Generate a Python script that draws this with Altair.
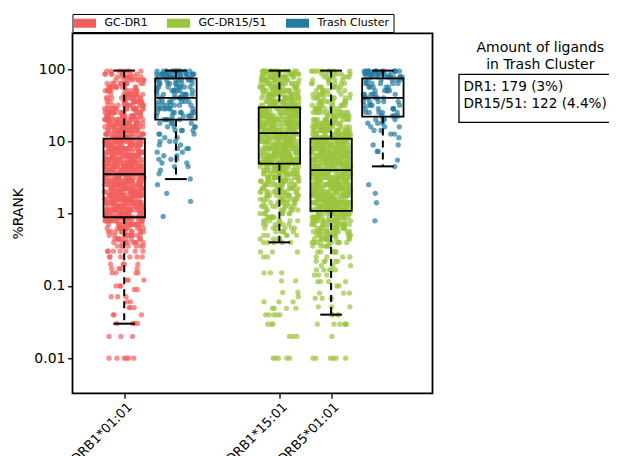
import altair as alt
import pandas as pd

FONT = "DejaVu Sans"

# ---------------- legend / categories ----------------
legend_labels = ["GC-DR1", "GC-DR15/51", "Trash Cluster"]
legend_colors = ["#F25F5C", "#9BC53D", "#247BA0"]

# ---------------- axes ----------------
x_tick_pos = [0, 3, 4]
x_tick_labels = ["DRB1*01:01", "DRB1*15:01", "DRB5*01:01"]
y_tick_values = [0.01, 0.1, 1, 10, 100]

# ---------------- box-plot summary (%RANK) ----------------
group_names = ["DR1", "DR1 trash", "DRB1*15:01", "DRB5*01:01", "DR15/51 trash"]
group_pos = [0, 1, 3, 4, 5]
group_legend = ["GC-DR1", "Trash Cluster", "GC-DR15/51", "GC-DR15/51", "Trash Cluster"]
box_q1 = [0.89, 20, 4.9, 1.09, 22]
box_med = [3.5, 40, 13, 4.0, 40]
box_q3 = [10.9, 74, 29.5, 10.9, 74]
whisk_lo = [0.03, 3.0, 0.40, 0.04, 4.5]
whisk_hi = [95, 95, 95, 95, 95]

# ---------------- strip points: log10(%RANK) levels and point counts ----------------
red_lvl = [1.97, 1.93, 1.89, 1.85, 1.80, 1.75, 1.70, 1.65, 1.60, 1.55,
           1.50, 1.45, 1.40, 1.35, 1.30, 1.25, 1.20, 1.15, 1.10, 1.05,
           1.00, 0.95, 0.90, 0.85, 0.80, 0.75, 0.70, 0.65, 0.60, 0.55,
           0.50, 0.45, 0.40, 0.35, 0.30, 0.25, 0.20, 0.15, 0.10, 0.05,
           0.00, -0.05, -0.10, -0.15, -0.20, -0.25, -0.30, -0.35, -0.40, -0.45,
           -0.52, -0.60, -0.70, -0.76, -0.82, -0.92, -1.00, -1.05, -1.15, -1.22,
           -1.30, -1.40, -1.52, -1.70, -2.00]
red_n = [7, 8, 8, 9, 10, 11, 12, 12, 13, 14,
         15, 16, 16, 17, 18, 19, 20, 21, 22, 23,
         24, 24, 24, 24, 24, 24, 24, 24, 24, 24,
         24, 24, 24, 24, 24, 24, 24, 24, 24, 24,
         24, 24, 18, 16, 14, 12, 10, 9, 8, 7,
         7, 6, 4, 4, 4, 3, 3, 2, 3, 2,
         3, 3, 4, 3, 6]

blue1_lvl = [1.97, 1.93, 1.89, 1.85, 1.80, 1.75, 1.70, 1.65, 1.60, 1.55,
             1.50, 1.45, 1.40, 1.35, 1.30, 1.25, 1.20, 1.15, 1.10, 1.05,
             1.00, 0.95, 0.90, 0.85, 0.80, 0.75, 0.70, 0.65, 0.60, 0.55,
             0.48, 0.40, 0.28, 0.17, -0.04]
blue1_n = [14, 14, 12, 9, 8, 8, 8, 8, 8, 7,
           7, 7, 7, 6, 6, 4, 4, 4, 3, 2,
           3, 2, 3, 2, 2, 3, 2, 2, 1, 1,
           1, 1, 1, 1, 1]

g1_lvl = [1.97, 1.93, 1.89, 1.85, 1.80, 1.75, 1.70, 1.65, 1.60, 1.55,
          1.50, 1.45, 1.40, 1.35, 1.30, 1.25, 1.20, 1.15, 1.10, 1.05,
          1.00, 0.95, 0.90, 0.85, 0.80, 0.75, 0.70, 0.65, 0.60, 0.55,
          0.50, 0.45, 0.40, 0.35, 0.30, 0.25, 0.20, 0.15, 0.10, 0.05,
          0.00, -0.05, -0.10, -0.15, -0.20, -0.25, -0.30, -0.35, -0.40, -0.53,
          -0.60, -0.82, -0.93, -1.09, -1.15, -1.22, -1.31, -1.40, -1.53, -1.70,
          -2.00]
g1_n = [16, 16, 16, 17, 17, 18, 18, 19, 19, 20,
        20, 24, 24, 24, 24, 24, 24, 24, 24, 24,
        24, 24, 24, 24, 24, 24, 24, 20, 18, 17,
        16, 14, 13, 12, 12, 11, 10, 9, 9, 8,
        8, 7, 7, 6, 6, 5, 5, 4, 5, 3,
        2, 3, 2, 2, 1, 3, 4, 5, 3, 3,
        5]

g2_lvl = [1.97, 1.93, 1.89, 1.85, 1.80, 1.75, 1.70, 1.65, 1.60, 1.55,
          1.50, 1.45, 1.40, 1.35, 1.30, 1.25, 1.20, 1.15, 1.10, 1.05,
          1.00, 0.95, 0.90, 0.85, 0.80, 0.75, 0.70, 0.65, 0.60, 0.55,
          0.50, 0.45, 0.40, 0.35, 0.30, 0.25, 0.20, 0.15, 0.10, 0.05,
          0.00, -0.05, -0.10, -0.15, -0.20, -0.25, -0.30, -0.35, -0.40, -0.45,
          -0.53, -0.60, -0.66, -0.72, -0.78, -0.85, -0.94, -1.00, -1.10, -1.17,
          -1.29, -1.40, -1.53, -1.70, -2.00]
g2_n = [10, 6, 6, 6, 6, 7, 7, 8, 8, 9,
        10, 11, 12, 13, 14, 15, 17, 19, 21, 24,
        24, 24, 24, 24, 24, 24, 24, 24, 24, 24,
        24, 24, 24, 24, 24, 24, 24, 24, 24, 24,
        20, 18, 16, 15, 14, 13, 12, 11, 10, 6,
        6, 4, 5, 3, 5, 3, 4, 2, 3, 3,
        3, 4, 6, 1, 6]

blue2_lvl = [1.97, 1.93, 1.89, 1.85, 1.80, 1.75, 1.70, 1.65, 1.60, 1.55,
             1.50, 1.45, 1.40, 1.35, 1.30, 1.25, 1.20, 1.15, 1.10, 1.05,
             0.95, 0.86, 0.74, 0.65, 0.40, 0.28, 0.15, -0.10]
blue2_n = [14, 12, 10, 6, 6, 5, 5, 6, 6, 5,
           5, 5, 5, 4, 4, 3, 3, 2, 2, 1,
           2, 2, 1, 1, 1, 1, 1, 1]

# ---------------- annotation text ----------------
note_title = ["Amount of ligands", "in Trash Cluster"]
note_lines = ["DR1: 179 (3%)", "DR15/51: 122 (4.4%)"]

# ---------------- build tables ----------------
rows = []
for name, pos, leg, lvls, ns in zip(group_names, group_pos, group_legend,
                                    [red_lvl, blue1_lvl, g1_lvl, g2_lvl, blue2_lvl],
                                    [red_n, blue1_n, g1_n, g2_n, blue2_n]):
    for lv, n in zip(lvls, ns):
        for _ in range(n):
            rows.append({"group": name, "pos": pos, "legend": leg, "rank": 10 ** lv})
points_df = pd.DataFrame(rows)

box_df = pd.DataFrame({"group": group_names, "pos": group_pos, "q1": box_q1,
                       "med": box_med, "q3": box_q3, "lo": whisk_lo, "hi": whisk_hi})

label_expr = " : ".join(
    f"datum.value == {p} ? '{t}'" for p, t in zip(x_tick_pos[:-1], x_tick_labels[:-1])
) + f" : '{x_tick_labels[-1]}'"

xs = alt.Scale(domain=[-1, 5.96], nice=False, zero=False)
ys = alt.Scale(type="log", domain=[10 ** -2.486, 10 ** 2.494], nice=False)

x_axis = alt.Axis(values=x_tick_pos, labelExpr=label_expr, title=None, grid=False,
                  domain=False, tickColor="black", tickSize=5, tickWidth=1.3,
                  labelAngle=-45, labelAlign="right", labelBaseline="top",
                  labelFontSize=13, labelColor="black", labelPadding=2,
                  labelOffset=1, labelOverlap=False, labelFlush=False)
y_axis = alt.Axis(values=y_tick_values, format="~g", title="%RANK", grid=False,
                  domain=False, tickColor="black", tickSize=5, tickWidth=1.3,
                  labelFontSize=14, labelColor="black", labelPadding=2.5,
                  labelOverlap=False, titleFontSize=14, titleFontWeight="normal",
                  titleColor="black", titleX=-47, titleY=180)

legend = alt.Legend(title=None, orient="none", legendX=0, legendY=-19.3,
                    direction="horizontal",
                    symbolType="M-1.7,-0.9H2.9V0.9H-1.7Z", symbolSize=100,
                    symbolOpacity=1, symbolStrokeWidth=0,
                    labelFontSize=11, labelColor="black", labelFont=FONT,
                    labelOffset=17.5, columnPadding=19, padding=3.5,
                    fillColor="white", strokeColor="black")

# deterministic stripplot jitter (hash of the row index), half-width 0.38 units
points = alt.Chart(points_df).transform_window(
    idx="row_number()", groupby=["group"]
).transform_calculate(
    xj="datum.pos + 0.76 * ((abs(sin(datum.idx * 12.9898 + datum.pos * 78.233) * 43758.5453) % 1) - 0.5)"
).mark_circle(size=28, opacity=0.7).encode(
    x=alt.X("xj:Q", scale=xs, axis=x_axis),
    y=alt.Y("rank:Q", scale=ys, axis=y_axis),
    color=alt.Color("legend:N",
                    scale=alt.Scale(domain=legend_labels, range=legend_colors),
                    legend=legend),
)

base_box = alt.Chart(box_df).transform_calculate(
    xl="datum.pos - 0.4", xr="datum.pos + 0.4",
    cl="datum.pos - 0.21", cr="datum.pos + 0.21",
)

boxes = base_box.mark_rect(fillOpacity=0, stroke="black", strokeWidth=1.8).encode(
    x=alt.X("xl:Q", scale=xs, axis=x_axis), x2="xr:Q",
    y=alt.Y("q1:Q", scale=ys, axis=y_axis), y2="q3:Q",
)
medians = base_box.mark_rule(color="black", strokeWidth=1.8).encode(
    x=alt.X("xl:Q", scale=xs, axis=x_axis), x2="xr:Q",
    y=alt.Y("med:Q", scale=ys, axis=y_axis),
)
whisk_up = base_box.mark_rule(color="black", strokeWidth=2, strokeDash=[7, 5]).encode(
    x=alt.X("pos:Q", scale=xs, axis=x_axis),
    y=alt.Y("hi:Q", scale=ys, axis=y_axis), y2="q3:Q",
)
whisk_dn = base_box.mark_rule(color="black", strokeWidth=2, strokeDash=[7, 5]).encode(
    x=alt.X("pos:Q", scale=xs, axis=x_axis),
    y=alt.Y("q1:Q", scale=ys, axis=y_axis), y2="lo:Q",
)
cap_up = base_box.mark_rule(color="black", strokeWidth=2).encode(
    x=alt.X("cl:Q", scale=xs, axis=x_axis), x2="cr:Q",
    y=alt.Y("hi:Q", scale=ys, axis=y_axis),
)
cap_dn = base_box.mark_rule(color="black", strokeWidth=2).encode(
    x=alt.X("cl:Q", scale=xs, axis=x_axis), x2="cr:Q",
    y=alt.Y("lo:Q", scale=ys, axis=y_axis),
)

# annotation box and text (outside the plot area, right side)
note_box = alt.Chart(pd.DataFrame({"k": [0]})).mark_rect(
    fill="white", stroke="black", strokeWidth=1.3
).encode(x=alt.value(386.5), x2=alt.value(640), y=alt.value(41), y2=alt.value(89))

def text_layer(txt, x, y, align, size):
    return alt.Chart(pd.DataFrame({"t": [txt]})).mark_text(
        align=align, baseline="alphabetic", fontSize=size, font=FONT, color="black"
    ).encode(text="t:N", x=alt.value(x), y=alt.value(y))

notes = [
    text_layer(note_title[0], 467.8, 18.7, "center", 14),
    text_layer(note_title[1], 467.8, 35.7, "center", 14),
    text_layer(note_lines[0], 391, 57.7, "left", 13.6),
    text_layer(note_lines[1], 391, 74.7, "left", 13.6),
]

chart = alt.layer(
    points, boxes, medians, whisk_up, whisk_dn, cap_up, cap_dn, note_box, *notes
).properties(
    width=360, height=360,
    autosize=alt.AutoSizeParams(type="none"),
    padding={"left": 64.5, "top": 25.3, "right": 176, "bottom": 70},
).configure(font=FONT).configure_view(stroke="black", strokeWidth=1.8)

chart.save("out.html", embed_options={"renderer": "svg", "actions": False})
